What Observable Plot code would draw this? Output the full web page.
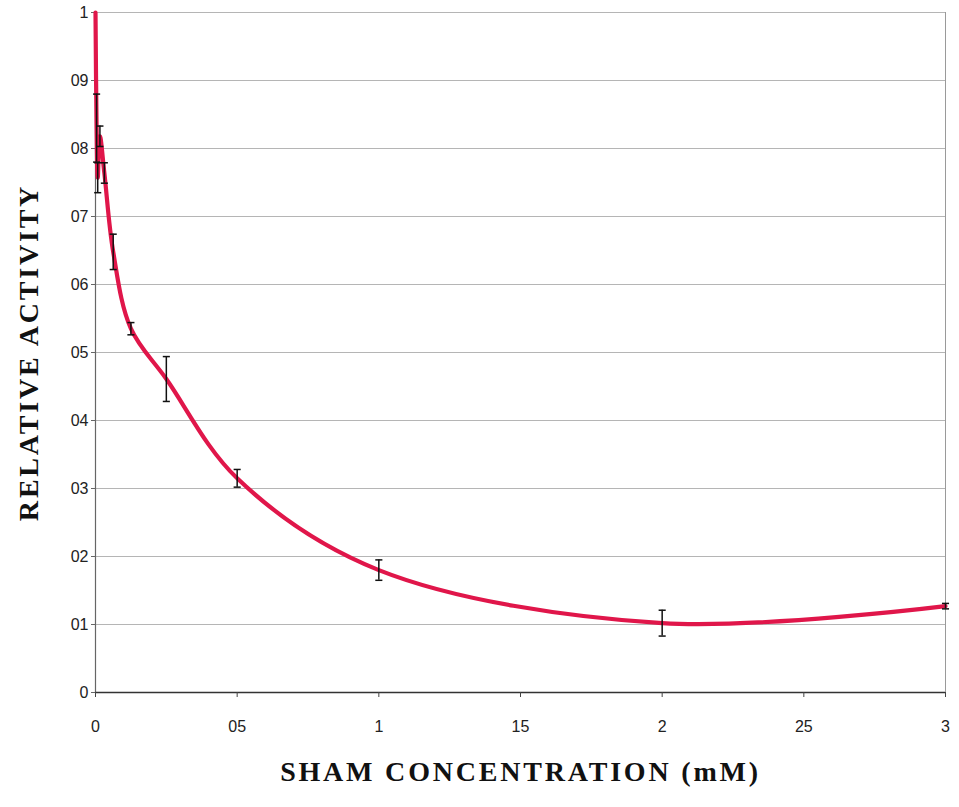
<!DOCTYPE html>
<html>
<head>
<meta charset="utf-8">
<script src="https://cdn.jsdelivr.net/npm/d3@7"></script>
<script src="https://cdn.jsdelivr.net/npm/@observablehq/plot@0.6"></script>
<style>
  html, body { margin: 0; padding: 0; background: #fff; }
  #chart svg { display: block; }
  #chart g[aria-label="text"] text { letter-spacing: 2.8px; }
</style>
</head>
<body>
<div id="chart"></div>
<script>
// SHAM concentration (mM)
const conc     = [0, 0.0039, 0.0078, 0.0156, 0.03125, 0.0625, 0.125, 0.25, 0.5, 1, 2, 3];
// Relative activity
const activity = [1, 0.83, 0.757, 0.818, 0.764, 0.648, 0.535, 0.461, 0.315, 0.18, 0.102, 0.127];
// Error (half-range)
const errors   = [0, 0.05, 0.022, 0.015, 0.015, 0.026, 0.009, 0.033, 0.013, 0.015, 0.019, 0.004];

const xTicks = [0, 0.5, 1, 1.5, 2, 2.5, 3];
const xTickLabels = ["0", "05", "1", "15", "2", "25", "3"];
const yTicks = [0, 0.1, 0.2, 0.3, 0.4, 0.5, 0.6, 0.7, 0.8, 0.9, 1];
const yTickLabels = ["0", "01", "02", "03", "04", "05", "06", "07", "08", "09", "1"];

const xTitle = "SHAM CONCENTRATION (mM)";
const yTitle = "RELATIVE ACTIVITY";

const data = conc.map((x, i) => ({x, y: activity[i], e: errors[i]}));
const bars = data.filter(d => d.e > 0);

// horizontal cap symbol for error bars
const capSymbol = {
  draw(context, size) {
    const w = Math.sqrt(size) / 2;
    context.moveTo(-w, 0);
    context.lineTo(w, 0);
  }
};

const chart = Plot.plot({
  width: 959,
  height: 807,
  marginLeft: 95,
  marginRight: 14,
  marginTop: 12,
  marginBottom: 115,
  style: {fontFamily: "'Liberation Sans', Arial, sans-serif", background: "#fff"},
  x: {domain: [0, 3]},
  y: {domain: [0, 1]},
  marks: [
    Plot.gridY(yTicks.slice(1), {stroke: "#b5b5b5", strokeOpacity: 1, strokeWidth: 1}),
    Plot.ruleX([3], {stroke: "#9a9a9a", strokeWidth: 1}),
    Plot.ruleX([0], {stroke: "#666", strokeWidth: 1.2}),
    Plot.ruleY([0], {stroke: "#333", strokeWidth: 1.6}),
    Plot.axisX({
      ticks: xTicks, tickFormat: (d, i) => xTickLabels[i],
      tickSize: 5, tickPadding: 23, fontSize: 16, color: "#222", label: null, stroke: "#444"
    }),
    Plot.axisY({
      ticks: yTicks, tickFormat: (d, i) => yTickLabels[i],
      tickSize: 4, tickPadding: 3, fontSize: 16, color: "#222", label: null, stroke: "#666"
    }),
    Plot.line(data, {x: "x", y: "y", curve: "catmull-rom", stroke: "#e0164a", strokeWidth: 4.2}),
    Plot.ruleX(bars, {x: "x", y1: d => d.y - d.e, y2: d => d.y + d.e, stroke: "#111", strokeWidth: 1.5}),
    Plot.dot(bars, {x: "x", y: d => d.y + d.e, symbol: capSymbol, r: 4, stroke: "#111", strokeWidth: 1.5}),
    Plot.dot(bars, {x: "x", y: d => d.y - d.e, symbol: capSymbol, r: 4, stroke: "#111", strokeWidth: 1.5}),
    Plot.text([xTitle], {
      frameAnchor: "bottom", dy: 88, fontSize: 28, fontWeight: "bold", textAnchor: "middle",
      fontFamily: "'Liberation Serif', 'Times New Roman', serif", fill: "#111"
    }),
    Plot.text([yTitle], {
      frameAnchor: "left", dx: -66, rotate: -90, fontSize: 28, fontWeight: "bold", textAnchor: "middle",
      fontFamily: "'Liberation Serif', 'Times New Roman', serif", fill: "#111"
    })
  ]
});

document.getElementById("chart").appendChild(chart);
</script>
</body>
</html>
